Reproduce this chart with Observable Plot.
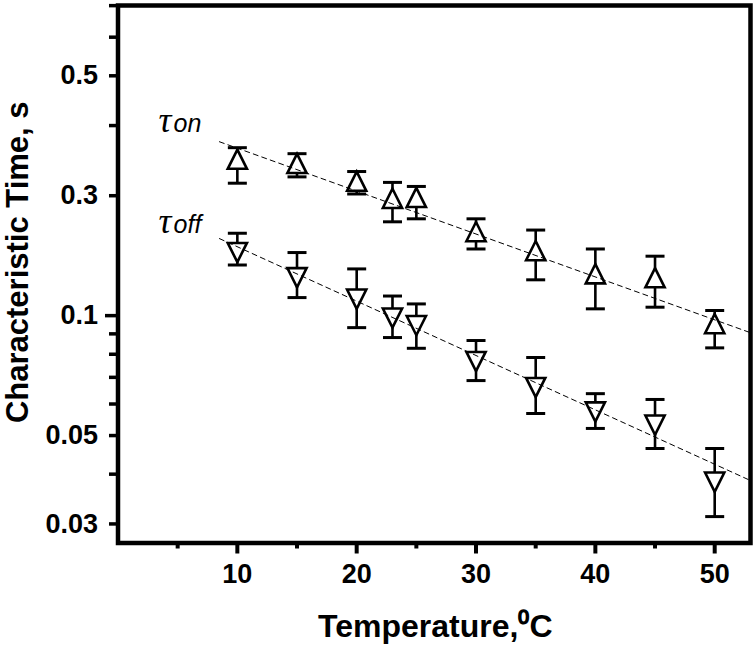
<!DOCTYPE html>
<html>
<head>
<meta charset="utf-8">
<script src="https://cdn.jsdelivr.net/npm/d3@7"></script>
<script src="https://cdn.jsdelivr.net/npm/@observablehq/plot@0.6"></script>
<style>
  html, body { margin: 0; padding: 0; background: #fff; }
</style>
</head>
<body>
<script>
// ---- data ----
const temps     = [10, 15, 20, 23, 25, 30, 35, 40, 45, 50];
const tauOn     = [0.247, 0.241, 0.2175, 0.197, 0.198, 0.1625, 0.1456, 0.1274, 0.1245, 0.0955];
const tauOnHi   = [0.264, 0.255, 0.230, 0.216, 0.211, 0.175, 0.164, 0.147, 0.141, 0.103];
const tauOnLo   = [0.215, 0.223, 0.202, 0.172, 0.175, 0.147, 0.123, 0.104, 0.105, 0.083];
const tauOff    = [0.144, 0.1245, 0.110, 0.0986, 0.0944, 0.0767, 0.066, 0.0573, 0.0531, 0.0382];
const tauOffHi  = [0.161, 0.144, 0.131, 0.112, 0.107, 0.0866, 0.0785, 0.0637, 0.0616, 0.0464];
const tauOffLo  = [0.134, 0.111, 0.0933, 0.0881, 0.0828, 0.0687, 0.0568, 0.0521, 0.0464, 0.0313];

// dashed fit lines (end points)
const fitT      = [8.5, 53];
const fitOn     = [0.2732, 0.0906];
const fitOff    = [0.1561, 0.03855];

// axis ticks
const xMajorTicks = [10, 20, 30, 40, 50];
const xMinorTicks = [5, 15, 25, 35, 45];
const yTickValues = [0.03, 0.05, 0.1, 0.2, 0.4];
const yTickLabels = ["0.03", "0.05", "0.1", "0.3", "0.5"];
const yMinorTicks = [0.03, 0.04, 0.05, 0.06, 0.07, 0.08, 0.09, 0.2, 0.3, 0.4, 0.5, 0.6];
const yMajorTicks = [0.1];

// series annotations
const seriesSymbol = ["τ", "τ"];
const seriesSub    = ["on", "off"];
const seriesLabelT = [3.4, 3.4];
const seriesLabelV = [0.289, 0.1615];

const xTitle = "Temperature,\u2070C";
const yTitle = "Characteristic Time, s";

// ---- tables ----
const onRows = temps.map((T, i) => ({T, v: tauOn[i], lo: tauOnLo[i], hi: tauOnHi[i]}));
const offRows = temps.map((T, i) => ({T, v: tauOff[i], lo: tauOffLo[i], hi: tauOffHi[i]}));
const allRows = onRows.concat(offRows);
const fitOnRows = fitT.map((T, i) => ({T, v: fitOn[i]}));
const fitOffRows = fitT.map((T, i) => ({T, v: fitOff[i]}));
const labelRows = seriesSub.map((sub, i) => ({sym: seriesSymbol[i], sub, T: seriesLabelT[i], v: seriesLabelV[i]}));

// ---- symbols centered on their bounding box ----
const triUp = {draw(ctx, size) {
  const r = Math.sqrt(size / Math.PI), w = 1.2 * r, h = 1.2 * r;
  ctx.moveTo(0, -h); ctx.lineTo(w, h); ctx.lineTo(-w, h); ctx.closePath();
}};
const triDown = {draw(ctx, size) {
  const r = Math.sqrt(size / Math.PI), w = 1.2 * r, h = 1.2 * r;
  ctx.moveTo(-w, -h); ctx.lineTo(w, -h); ctx.lineTo(0, h); ctx.closePath();
}};
const cap = {draw(ctx, size) {
  const r = Math.sqrt(size / Math.PI);
  ctx.moveTo(-r, 0); ctx.lineTo(r, 0);
}};

const font = "'Liberation Sans', Arial, Helvetica, sans-serif";

const chart = Plot.plot({
  width: 756,
  height: 645,
  marginLeft: 117.5,
  marginRight: 6,
  marginTop: 5,
  marginBottom: 102.5,
  x: {domain: [0, 53], axis: null},
  y: {type: "log", domain: [0.02687, 0.6005], axis: null},
  style: {fontFamily: font, background: "#fff", color: "#000"},
  marks: [
    // error bars
    Plot.ruleX(allRows, {x: "T", y1: "lo", y2: "hi", stroke: "#000", strokeWidth: 2.6}),
    Plot.dot(allRows, {x: "T", y: "hi", symbol: cap, r: 9.5, fill: "none", stroke: "#000", strokeWidth: 3}),
    Plot.dot(allRows, {x: "T", y: "lo", symbol: cap, r: 9.5, fill: "none", stroke: "#000", strokeWidth: 3}),
    // markers
    Plot.dot(onRows, {x: "T", y: "v", symbol: triUp, r: 8, fill: "#fff", stroke: "#000", strokeWidth: 2.6}),
    Plot.dot(offRows, {x: "T", y: "v", symbol: triDown, r: 8, fill: "#fff", stroke: "#000", strokeWidth: 2.6}),
    // fit lines
    Plot.line(fitOnRows, {x: "T", y: "v", stroke: "#000", strokeWidth: 1, strokeDasharray: "5,4", clip: true}),
    Plot.line(fitOffRows, {x: "T", y: "v", stroke: "#000", strokeWidth: 1, strokeDasharray: "5,4", clip: true}),
    // series labels
    Plot.text(labelRows, {x: "T", y: "v", text: "sym", textAnchor: "start", lineAnchor: "bottom",
      fontSize: 36, fontStyle: "italic", fontFamily: "'Liberation Serif', 'DejaVu Serif', serif", fill: "#000"}),
    Plot.text(labelRows, {x: "T", y: "v", text: "sub", textAnchor: "start", lineAnchor: "bottom", dx: 15,
      fontSize: 25, fontStyle: "italic", fill: "#000"}),
    // axes
    Plot.axisX(xMajorTicks, {tickSize: 11, tickPadding: 9.5, strokeWidth: 4, fontSize: 27, fontWeight: "bold",
      tickFormat: d => String(d), label: null}),
    Plot.axisX(xMinorTicks, {tickSize: 6, strokeWidth: 4, tickFormat: () => "", label: null}),
    Plot.axisY(yTickValues, {tickSize: 0, tickPadding: 20, fontSize: 27, fontWeight: "bold",
      tickFormat: d => yTickLabels[yTickValues.indexOf(d)], label: null}),
    Plot.axisY(yMinorTicks, {tickSize: 8.5, strokeWidth: 3.5, tickFormat: () => "", label: null}),
    Plot.axisY(yMajorTicks, {tickSize: 12.5, strokeWidth: 3.5, tickFormat: () => "", label: null}),
    // frame
    Plot.frame({stroke: "#000", strokeWidth: 4.5}),
    // axis titles
    Plot.text([yTitle], {frameAnchor: "left", textAnchor: "middle", lineAnchor: "middle", rotate: -90,
      dx: -100, dy: -12, fontSize: 31, fontWeight: "bold", fill: "#000"}),
    Plot.text([xTitle], {frameAnchor: "bottom", textAnchor: "middle", lineAnchor: "bottom", dx: 1, dy: 94,
      fontSize: 32, fontWeight: "bold", fill: "#000"})
  ]
});

document.body.append(chart);
</script>
</body>
</html>
